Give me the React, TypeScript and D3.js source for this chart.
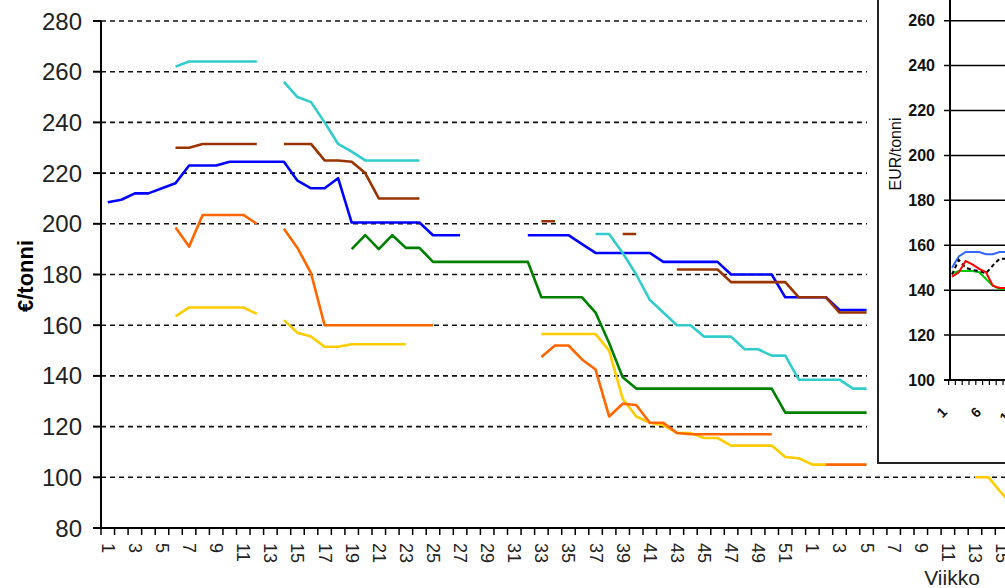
import React from 'react';
import * as d3 from 'd3';

const _ = null;

// Main chart categories: weeks of year 1 (1..52) followed by weeks of year 2
const yearOneWeeks = d3.range(1, 53);
const yearTwoWeeks = d3.range(1, 21);
const weekLabels: string[] = [...yearOneWeeks, ...yearTwoWeeks].map(String);

const yTicks = [80, 100, 120, 140, 160, 180, 200, 220, 240, 260, 280];

// Series values per category (index 0 = week 1 of year 1)
const blueSeries: (number | null)[] = [
  208.5, 209.5, 212, 212, 214, 216, 223, 223, 223, 224.5,
  224.5, 224.5, 224.5, 224.5, 217, 214, 214, 218, 200.5, 200.5,
  200.5, 200.5, 200.5, 200.5, 195.5, 195.5, 195.5, _, _, _,
  _, 195.5, 195.5, 195.5, 195.5, 192, 188.5, 188.5, 188.5, 188.5,
  188.5, 185, 185, 185, 185, 185, 180, 180, 180, 180,
  171, 171, 171, 171, 166, 166, 166,
];
const brownSeries: (number | null)[] = [
  _, _, _, _, _, 230, 230, 231.5, 231.5, 231.5,
  231.5, 231.5, _, 231.5, 231.5, 231.5, 225, 225, 224.5, 220,
  210, 210, 210, 210, _, _, _, _, _, _,
  _, _, 201, 201, _, _, _, _, 196, 196,
  _, _, 182, 182, 182, 182, 177, 177, 177, 177,
  177, 171, 171, 171, 165, 165, 165,
];
const cyanSeries: (number | null)[] = [
  _, _, _, _, _, 262, 264, 264, 264, 264,
  264, 264, _, 256, 250, 248, 240, 231.5, 228.5, 225,
  225, 225, 225, 225, _, _, _, _, _, _,
  _, _, _, _, _, _, 196, 196, 188.5, 180,
  170, 165, 160, 160, 155.5, 155.5, 155.5, 150.5, 150.5, 148,
  148, 138.5, 138.5, 138.5, 138.5, 135, 135,
];
const orangeSeries: (number | null)[] = [
  _, _, _, _, _, 198.5, 191, 203.5, 203.5, 203.5,
  203.5, 200, _, 198, 190.5, 180.5, 160, 160, 160, 160,
  160, 160, 160, 160, 160, _, _, _, _, _,
  _, _, 147.5, 152, 152, 146.5, 142.5, 124, 129, 128.5,
  121.5, 121.5, 117.5, 117, 117, 117, 117, 117, 117, 117,
  _, _, _, 105, 105, 105, 105,
];
const yellowSeries: (number | null)[] = [
  _, _, _, _, _, 163.5, 167, 167, 167, 167,
  167, 164.5, _, 162, 157, 155.5, 151.5, 151.5, 152.5, 152.5,
  152.5, 152.5, 152.5, _, _, _, _, _, _, _,
  _, _, 156.5, 156.5, 156.5, 156.5, 156.5, 150, 131, 124,
  121.5, 120.5, 117.5, 117.5, 115.5, 115.5, 112.5, 112.5, 112.5, 112.5,
  108, 107.5, 105, 105, _, _, _, _, _, _,
  _, _, _, _, 100, 100, 93.5, 88,
];
const greenSeries: (number | null)[] = [
  _, _, _, _, _, _, _, _, _, _,
  _, _, _, _, _, _, _, _, 190, 195.5,
  190, 195.5, 190.5, 190.5, 185, 185, 185, 185, 185, 185,
  185, 185, 171, 171, 171, 171, 165, 153, 139.5, 135,
  135, 135, 135, 135, 135, 135, 135, 135, 135, 135,
  125.5, 125.5, 125.5, 125.5, 125.5, 125.5, 125.5,
];

// Inset chart
const insetWeeks = d3.range(1, 15);
const insetYTicks = [100, 120, 140, 160, 180, 200, 220, 240, 260];
const insetLabelWeeks = [1, 6, 11];
const insetBlue = [150, 155, 157, 157, 157, 156, 156, 157, 157];
const insetBlack = [147, 153.5, 150, 149, 148.5, 147.5, 151, 154, 154];
const insetRed = [146, 148, 153, 151.5, 149.5, 148, 142, 141, 141];
const insetGreen = [147.5, 148.5, 148.5, 148.5, 148, 145, 142, 140.5, 140.5];

const mainSeries = [
  { values: yellowSeries, color: '#ffcc00' },
  { values: orangeSeries, color: '#ff6600' },
  { values: greenSeries, color: '#008000' },
  { values: blueSeries, color: '#0000ff' },
  { values: brownSeries, color: '#993300' },
  { values: cyanSeries, color: '#33cccc' },
];

const insetSeries = [
  { values: insetGreen, color: '#00cc00', dash: '' },
  { values: insetBlue, color: '#3366ff', dash: '' },
  { values: insetBlack, color: '#000000', dash: '4,3' },
  { values: insetRed, color: '#ff0000', dash: '' },
];

const FONT = '"Liberation Sans", Arial, sans-serif';

export default function App() {
  const W = 1005;
  const H = 588;
  const plotLeft = 101;
  const step = 13.55;
  const x = d3
    .scaleBand<number>()
    .domain(d3.range(weekLabels.length))
    .range([plotLeft, plotLeft + weekLabels.length * step])
    .paddingInner(0)
    .paddingOuter(0);
  const cx = (i: number) => (x(i) as number) + x.bandwidth() / 2;
  const y = d3.scaleLinear().domain([80, 280]).range([528, 21]);

  const line = d3
    .line<number | null>()
    .defined((d) => d != null)
    .x((_d, i) => cx(i))
    .y((d) => y(d as number));

  // inset scales
  const ixStep = 6.8;
  const ixStart = 948.6;
  const ix = d3
    .scaleBand<number>()
    .domain(insetWeeks)
    .range([ixStart, ixStart + insetWeeks.length * ixStep])
    .paddingInner(0)
    .paddingOuter(0);
  const icx = (w: number) => (ix(w) as number) + ix.bandwidth() / 2;
  const iy = d3.scaleLinear().domain([100, 260]).range([380, 20.7]);
  const insetAxisX = 950;
  const iline = d3
    .line<number>()
    .x((_d, i) => icx(insetWeeks[i]))
    .y((d) => iy(d));

  const xEnd = plotLeft + weekLabels.length * step;

  return (
    <svg
      width={W}
      height={H}
      style={{ position: 'absolute', left: 0, top: 0, background: '#fff', overflow: 'hidden' }}
      fontFamily={FONT}
    >
      <rect x={0} y={0} width={W} height={H} fill="#fff" />
      {/* gridlines */}
      {yTicks.filter((t) => t !== 80).map((t) => (
        <line
          key={'g' + t}
          x1={plotLeft}
          x2={xEnd}
          y1={y(t)}
          y2={y(t)}
          stroke="#111"
          strokeWidth={1.6}
          strokeDasharray="5,4"
        />
      ))}
      {/* y axis */}
      <line x1={plotLeft} x2={plotLeft} y1={y(280)} y2={y(80)} stroke="#000" strokeWidth={2} />
      {yTicks.map((t) => (
        <g key={'yt' + t}>
          <line x1={plotLeft - 8} x2={plotLeft} y1={y(t)} y2={y(t)} stroke="#000" strokeWidth={2} />
          <text
            x={82}
            y={y(t)}
            textAnchor="end"
            dominantBaseline="central"
            fontSize={24}
            fill="#222"
          >
            {t}
          </text>
        </g>
      ))}
      {/* x axis */}
      <line x1={plotLeft} x2={xEnd} y1={y(80)} y2={y(80)} stroke="#000" strokeWidth={2} />
      {d3.range(weekLabels.length + 1).map((k) => (
        <line
          key={'xt' + k}
          x1={plotLeft + k * x.step()}
          x2={plotLeft + k * x.step()}
          y1={y(80)}
          y2={y(80) + 7}
          stroke="#000"
          strokeWidth={1.5}
        />
      ))}
      {weekLabels.map((lab, i) =>
        i % 2 === 0 ? (
          <text
            key={'xl' + i}
            transform={`translate(${cx(i)},${543}) rotate(90)`}
            textAnchor="start"
            dominantBaseline="central"
            fontSize={18}
            fill="#222"
          >
            {lab}
          </text>
        ) : null
      )}
      <text
        transform={`translate(25,276) rotate(-90)`}
        textAnchor="middle"
        dominantBaseline="central"
        fontSize={22}
        fontWeight="bold"
        fill="#000"
      >
        €/tonni
      </text>
      <text x={952} y={585} textAnchor="middle" fontSize={21} fill="#222">
        Viikko
      </text>

      {/* series */}
      {mainSeries.map((s, k) => (
        <path
          key={'s' + k}
          d={line(s.values) || ''}
          fill="none"
          stroke={s.color}
          strokeWidth={2.6}
          strokeLinejoin="round"
        />
      ))}

      {/* inset */}
      <rect x={867} y={-10} width={200} height={476} fill="#fff" />
      <rect x={878} y={-10} width={200} height={473} fill="none" stroke="#222" strokeWidth={2} />
      {insetYTicks.map((t) => (
        <g key={'iy' + t}>
          <line
            x1={insetAxisX - 6}
            x2={1010}
            y1={iy(t)}
            y2={iy(t)}
            stroke="#000"
            strokeWidth={t === 100 ? 2 : 1.5}
          />
          <text
            x={935}
            y={iy(t)}
            textAnchor="end"
            dominantBaseline="central"
            fontSize={16}
            fontWeight="bold"
            fill="#111"
          >
            {t}
          </text>
        </g>
      ))}
      <line x1={insetAxisX} x2={insetAxisX} y1={-10} y2={iy(100)} stroke="#000" strokeWidth={2} />
      {d3.range(insetWeeks.length + 1).map((k) => (
        <line
          key={'ixt' + k}
          x1={ixStart + k * ixStep}
          x2={ixStart + k * ixStep}
          y1={iy(100)}
          y2={iy(100) + 5}
          stroke="#000"
          strokeWidth={1.2}
        />
      ))}
      {insetLabelWeeks.map((w) => (
        <text
          key={'il' + w}
          transform={`translate(${icx(w) - 4},413) rotate(-45)`}
          textAnchor="end"
          fontSize={14}
          fontWeight="bold"
          fill="#111"
        >
          {w}
        </text>
      ))}
      <text
        transform={`translate(895,154) rotate(-90)`}
        textAnchor="middle"
        dominantBaseline="central"
        fontSize={16}
        fill="#111"
      >
        EUR/tonni
      </text>
      {insetSeries.map((s, k) => (
        <path
          key={'is' + k}
          d={iline(s.values) || ''}
          fill="none"
          stroke={s.color}
          strokeWidth={2}
          strokeDasharray={s.dash || undefined}
        />
      ))}
    </svg>
  );
}
